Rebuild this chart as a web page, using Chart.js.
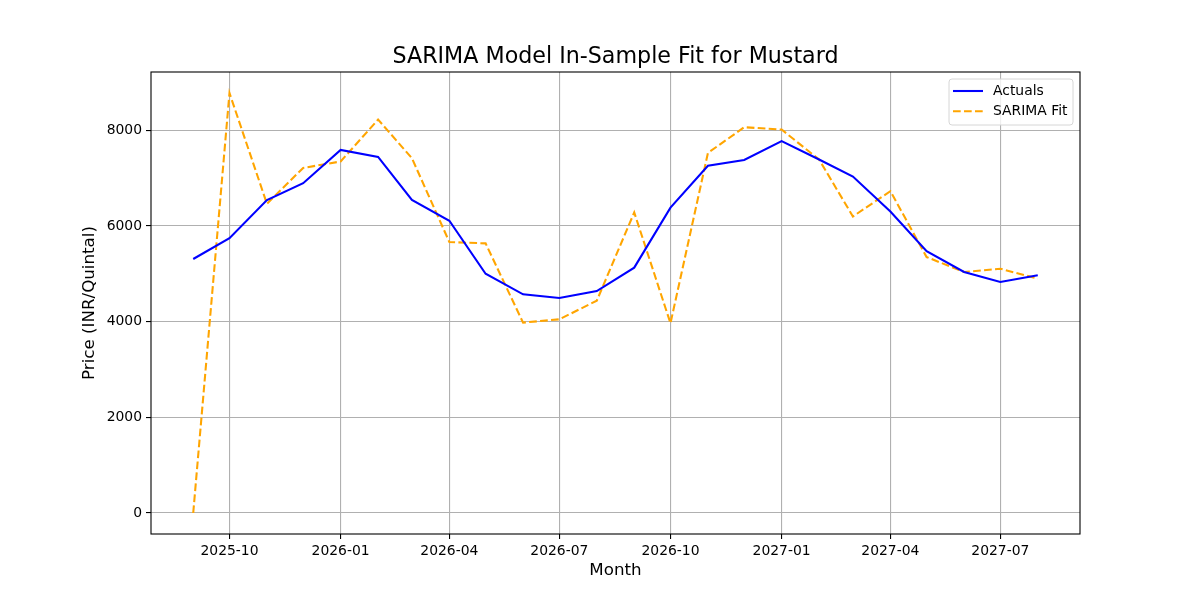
<!DOCTYPE html>
<html>
<head>
<meta charset="utf-8">
<script src="https://cdn.jsdelivr.net/npm/chart.js@4.4.1/dist/chart.umd.min.js"></script>
<style>
  html, body { margin: 0; padding: 0; background: #fff; }
  canvas { display: block; }
</style>
</head>
<body>
<canvas id="myChart" width="1200" height="600"></canvas>
<script>
// monthly data
var months = ['2025-09', '2025-10', '2025-11', '2025-12', '2026-01', '2026-02', '2026-03', '2026-04',
              '2026-05', '2026-06', '2026-07', '2026-08', '2026-09', '2026-10', '2026-11', '2026-12',
              '2027-01', '2027-02', '2027-03', '2027-04', '2027-05', '2027-06', '2027-07', '2027-08'];
var actuals = [5310, 5747, 6541, 6895, 7591, 7445, 6545, 6110,
               5002, 4572, 4495, 4640, 5130, 6385, 7260, 7380,
               7775, 7390, 7035, 6305, 5476, 5038, 4829, 4969];
var sarimaFit = [0, 8781, 6464, 7215, 7349, 8225, 7418, 5664,
                 5637, 3980, 4050, 4438, 6284, 3967, 7528, 8065,
                 8017, 7390, 6200, 6729, 5351, 5038, 5107, 4898];
var xTickLabels = ['2025-10', '2026-01', '2026-04', '2026-07', '2026-10', '2027-01', '2027-04', '2027-07'];
var yTickValues = [0, 2000, 4000, 6000, 8000];

// x positions in days since the first month (like a date axis)
function toDays(m) {
    var p = m.split('-');
    var base = Date.UTC(2025, 8, 1);
    return (Date.UTC(+p[0], +p[1] - 1, 1) - base) / 86400000;
}
var xs = months.map(toDays);
var span = xs[xs.length - 1] - xs[0];
var tickDays = xTickLabels.map(toDays);

function points(values) {
    return values.map(function (v, i) { return { x: xs[i], y: v }; });
}

var yMinData = Math.min.apply(null, actuals.concat(sarimaFit));
var yMaxData = Math.max.apply(null, actuals.concat(sarimaFit));
var yPad = (yMaxData - yMinData) * 0.05;

var tickFont = { family: 'DejaVu Sans', size: 13.9 };

// title, frame and legend box drawn the matplotlib way
var decor = {
    id: 'decor',
    afterDatasetsDraw: function (chart) {
        var ctx = chart.ctx;
        var a = chart.chartArea;
        ctx.save();
        ctx.strokeStyle = '#000';
        ctx.lineWidth = 1.1;
        ctx.strokeRect(a.left, a.top, a.right - a.left, a.bottom - a.top);

        ctx.fillStyle = '#000';
        ctx.font = '22.2px "DejaVu Sans"';
        ctx.textAlign = 'center';
        ctx.textBaseline = 'middle';
        ctx.fillText('SARIMA Model In-Sample Fit for Mustard', (a.left + a.right) / 2, 57);

        // legend
        var bx = 949, by = 79, bw = 124, bh = 46, r = 3;
        ctx.beginPath();
        ctx.moveTo(bx + r, by);
        ctx.arcTo(bx + bw, by, bx + bw, by + bh, r);
        ctx.arcTo(bx + bw, by + bh, bx, by + bh, r);
        ctx.arcTo(bx, by + bh, bx, by, r);
        ctx.arcTo(bx, by, bx + bw, by, r);
        ctx.closePath();
        ctx.fillStyle = 'rgba(255,255,255,0.8)';
        ctx.fill();
        ctx.strokeStyle = '#d6d6d6';
        ctx.lineWidth = 1;
        ctx.stroke();

        var items = chart.data.datasets;
        items.forEach(function (ds, i) {
            var ly = 91 + i * 20.3;
            ctx.beginPath();
            ctx.setLineDash(ds.borderDash || []);
            ctx.strokeStyle = ds.borderColor;
            ctx.lineWidth = ds.borderWidth;
            ctx.moveTo(953, ly);
            ctx.lineTo(983, ly);
            ctx.stroke();
            ctx.setLineDash([]);
            ctx.fillStyle = '#000';
            ctx.font = '13.9px "DejaVu Sans"';
            ctx.textAlign = 'left';
            ctx.textBaseline = 'middle';
            ctx.fillText(ds.label, 993, ly);
        });
        ctx.restore();
    }
};

var ctx = document.getElementById('myChart').getContext('2d');
var myChart = new Chart(ctx, {
    type: 'line',
    data: {
        datasets: [{
            label: 'Actuals',
            data: points(actuals),
            borderColor: '#0000ff',
            borderWidth: 2.08,
            pointRadius: 0,
            tension: 0,
            fill: false
        }, {
            label: 'SARIMA Fit',
            data: points(sarimaFit),
            borderColor: '#ffa500',
            borderWidth: 2.08,
            borderDash: [7.7, 3.3],
            pointRadius: 0,
            tension: 0,
            fill: false
        }]
    },
    options: {
        responsive: false,
        animation: false,
        devicePixelRatio: 1,
        layout: { padding: { left: 0, right: 120, top: 72, bottom: 0 } },
        plugins: {
            legend: { display: false },
            title: { display: false },
            tooltip: { enabled: false }
        },
        scales: {
            x: {
                type: 'linear',
                min: xs[0] - span * 0.05,
                max: xs[xs.length - 1] + span * 0.05,
                afterBuildTicks: function (axis) {
                    axis.ticks = tickDays.map(function (d) { return { value: d }; });
                },
                afterFit: function (axis) { axis.height = 66; },
                ticks: {
                    font: tickFont,
                    color: '#000',
                    padding: 4,
                    maxRotation: 0,
                    autoSkip: false,
                    callback: function (value) {
                        var i = tickDays.indexOf(value);
                        return i >= 0 ? xTickLabels[i] : '';
                    }
                },
                grid: { color: '#b0b0b0', lineWidth: 1.1, tickLength: 5, tickColor: '#000', tickWidth: 1.1 },
                border: { display: false },
                title: {
                    display: true,
                    text: 'Month',
                    color: '#000',
                    font: { family: 'DejaVu Sans', size: 16.7 },
                    padding: { top: 0, bottom: 19 }
                }
            },
            y: {
                type: 'linear',
                min: yMinData - yPad,
                max: yMaxData + yPad,
                afterBuildTicks: function (axis) {
                    axis.ticks = yTickValues.map(function (v) { return { value: v }; });
                },
                afterFit: function (axis) { axis.width = 151; },
                ticks: {
                    font: tickFont,
                    color: '#000',
                    padding: 4,
                    callback: function (value) { return String(value); }
                },
                grid: { color: '#b0b0b0', lineWidth: 1.1, tickLength: 5, tickColor: '#000', tickWidth: 1.1 },
                border: { display: false },
                title: {
                    display: true,
                    text: 'Price (INR/Quintal)',
                    color: '#000',
                    font: { family: 'DejaVu Sans', size: 16.7 },
                    padding: { top: 80, bottom: 0 }
                }
            }
        }
    },
    plugins: [decor]
});
</script>
</body>
</html>
